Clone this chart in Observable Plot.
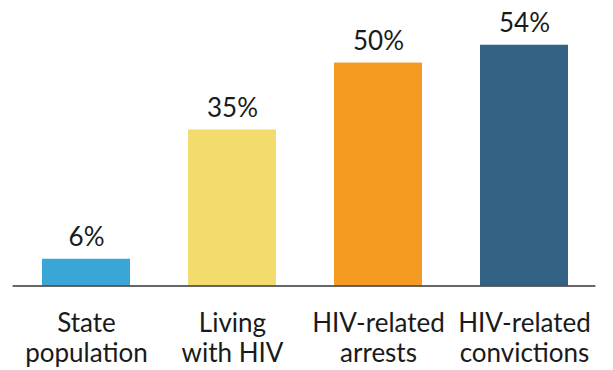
<!DOCTYPE html>
<html>
<head>
<meta charset="utf-8">
<script src="https://cdn.jsdelivr.net/npm/d3@7"></script>
<script src="https://cdn.jsdelivr.net/npm/@observablehq/plot@0.6"></script>
<style>
  html, body { margin: 0; padding: 0; background: #fff; }
  #chart svg { display: block; }
</style>
</head>
<body>
<div id="chart"></div>
<script>
// Share of each group (percent)
const categories = ["State\npopulation", "Living\nwith HIV", "HIV-related\narrests", "HIV-related\nconvictions"];
const values = [6, 35, 50, 54];
const colors = ["#3aa6d6", "#f2dc6e", "#f59a23", "#336285"];

const data = categories.map((c, i) => ({category: c, value: values[i], color: colors[i]}));

const chart = Plot.plot({
  width: 613,
  height: 370,
  marginLeft: 10.6,
  marginRight: 14.6,
  marginTop: 18,
  marginBottom: 84.5,
  style: {fontFamily: "Lato, sans-serif", color: "#1a1a1a", background: "#fff"},
  x: {domain: categories, paddingInner: 0.4, paddingOuter: 0.2, axis: null},
  y: {domain: [0, 60], axis: null},
  marks: [
    Plot.barY(data, {x: "category", y: "value", fill: "color"}),
    Plot.ruleY([0], {stroke: "#333", strokeWidth: 1.3, insetLeft: 2, insetRight: 3}),
    Plot.text(data, {
      x: "category", y: "value", text: d => `${d.value}%`,
      lineAnchor: "bottom", dy: -13, fontSize: 26, fill: "#1a1a1a"
    }),
    Plot.text(data, {
      x: "category", y: 0, text: "category",
      lineAnchor: "top", dy: 25, fontSize: 26, lineHeight: 1.15, fill: "#1a1a1a"
    })
  ]
});

document.getElementById("chart").appendChild(chart);
</script>
</body>
</html>
